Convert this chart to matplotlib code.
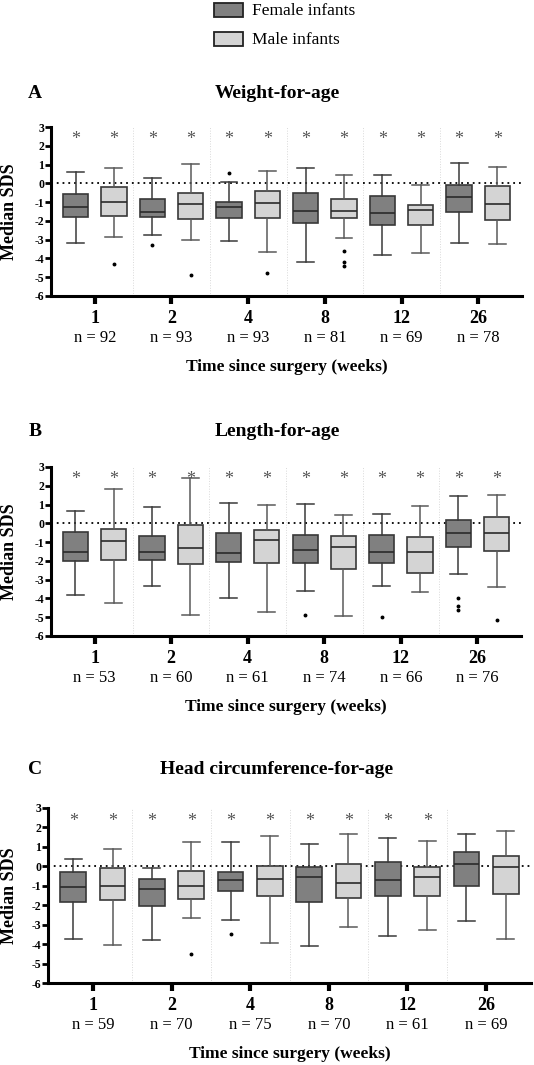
"""
Box plots of median SDS by time since surgery, female vs male infants.
Three panels: weight-for-age, length-for-age, head circumference-for-age.
"""

import matplotlib
matplotlib.use("Agg")
import matplotlib.pyplot as plt
from matplotlib.patches import Rectangle
from matplotlib.transforms import blended_transform_factory

plt.rcParams["font.family"] = ["Liberation Serif", "DejaVu Serif"]
plt.rcParams["axes.unicode_minus"] = False

# ---------------------------------------------------------------------------
# Data: (whisker low, q1, median, q3, whisker high)
# ---------------------------------------------------------------------------
weeks = ["1", "2", "4", "8", "12", "26"]

wfa_female = [(-3.2, -1.78, -1.26, -0.59, 0.62), (-2.73, -1.78, -1.55, -0.82, 0.28),
              (-3.06, -1.86, -1.27, -0.97, 0.09), (-4.2, -2.13, -1.47, -0.53, 0.83),
              (-3.82, -2.2, -1.6, -0.67, 0.44), (-3.2, -1.51, -0.75, -0.07, 1.07)]
wfa_male = [(-2.88, -1.72, -1.01, -0.21, 0.83), (-3.03, -1.92, -1.1, -0.52, 1.01),
            (-3.64, -1.83, -1.06, -0.42, 0.66), (-2.93, -1.86, -1.47, -0.85, 0.43),
            (-3.69, -2.2, -1.44, -1.14, -0.1), (-3.21, -1.97, -1.1, -0.12, 0.87)]
wfa_female_out = [[], [-3.3], [0.55], [], [], []]
wfa_male_out = [[-4.3], [-4.9], [-4.75], [-3.6, -4.17, -4.42], [], []]
n_wfa = [92, 93, 93, 81, 69, 78]
sig_wfa_female = [1, 1, 1, 1, 1, 1]
sig_wfa_male = [1, 1, 1, 1, 1, 1]

lfa_female = [(-3.81, -2.02, -1.52, -0.44, 0.68), (-3.34, -1.97, -1.53, -0.66, 0.88),
              (-4.0, -2.06, -1.6, -0.52, 1.1), (-3.6, -2.13, -1.4, -0.61, 1.05),
              (-3.32, -2.1, -1.53, -0.63, 0.52), (-2.71, -1.24, -0.5, 0.16, 1.44)]
lfa_male = [(-4.22, -1.95, -0.95, -0.32, 1.83), (-4.9, -2.17, -1.31, -0.11, 2.4),
            (-4.74, -2.12, -0.9, -0.36, 0.99), (-4.94, -2.42, -1.24, -0.65, 0.47),
            (-3.68, -2.66, -1.53, -0.74, 0.92), (-3.39, -1.45, -0.52, 0.34, 1.49)]
lfa_female_out = [[], [], [], [-4.9], [-4.97], [-3.97, -4.4, -4.63]]
lfa_male_out = [[], [], [], [], [], [-5.15]]
n_lfa = [53, 60, 61, 74, 66, 76]
sig_lfa_female = [1, 1, 1, 1, 1, 1]
sig_lfa_male = [1, 1, 1, 1, 1, 1]

hc_female = [(-3.72, -1.86, -1.04, -0.31, 0.38), (-3.77, -2.02, -1.18, -0.64, -0.07),
             (-2.76, -1.27, -0.71, -0.3, 1.23), (-4.12, -1.84, -0.57, -0.03, 1.15),
             (-3.58, -1.55, -0.69, 0.21, 1.44), (-2.83, -1.03, 0.12, 0.73, 1.67)]
hc_male = [(-4.07, -1.73, -1.01, -0.09, 0.9), (-2.68, -1.7, -0.99, -0.23, 1.25),
           (-3.94, -1.55, -0.63, 0.03, 1.55), (-3.11, -1.63, -0.85, 0.1, 1.65),
           (-3.28, -1.55, -0.57, -0.03, 1.29), (-3.75, -1.41, -0.03, 0.54, 1.81)]
hc_female_out = [[], [], [-3.46], [], [], []]
hc_male_out = [[], [-4.5], [], [], [], []]
n_hc = [59, 70, 75, 70, 61, 69]
sig_hc_female = [1, 1, 1, 1, 1, 0]
sig_hc_male = [1, 1, 1, 1, 1, 0]

FEMALE_COLOR = "#808080"
MALE_COLOR = "#d4d4d4"
EDGE = "#383838"
STAR = "#555555"

W, H, DPI = 534, 1065, 100
PX = 72 / DPI  # points per pixel


def _stats(boxes, outliers):
    return [dict(whislo=b[0], q1=b[1], med=b[2], q3=b[3], whishi=b[4], fliers=o)
            for b, o in zip(boxes, outliers)]


def draw_panel(fig, rect, letter, title_y, title, female, male, f_out, m_out,
               n, sig_f, sig_m):
    ax = fig.add_axes(rect)
    pos = list(range(len(weeks)))
    offset, width = 0.25, 0.33

    for boxes, outs, color, shift, wcol in [
        (female, f_out, FEMALE_COLOR, -offset, "#3a3a3a"),
        (male, m_out, MALE_COLOR, offset, "#5a5a5a"),
    ]:
        ax.bxp(_stats(boxes, outs), positions=[p + shift for p in pos],
               widths=width, capwidths=0.22, patch_artist=True,
               boxprops=dict(facecolor=color, edgecolor=EDGE, linewidth=1.2),
               medianprops=dict(color="#2a2a2a", linewidth=1.2),
               whiskerprops=dict(color=wcol, linewidth=1.1),
               capprops=dict(color=wcol, linewidth=1.1),
               flierprops=dict(marker="o", markersize=1.8, markerfacecolor="black",
                               markeredgecolor="black"),
               zorder=3)

    # group separators and zero reference line
    for p in pos[:-1]:
        ax.axvline(p + 0.5, color="#d9d9d9", linestyle=":", linewidth=0.7, zorder=1)
    ax.axhline(0, color="black", linestyle=(0, (1, 2.2)), linewidth=1.3, zorder=2)

    # significance stars
    for p, sf, sm in zip(pos, sig_f, sig_m):
        if sf:
            ax.text(p - offset, 2.1, "*", ha="center", va="baseline",
                    fontsize=13, color=STAR)
        if sm:
            ax.text(p + offset, 2.1, "*", ha="center", va="baseline",
                    fontsize=13, color=STAR)

    ax.set_xlim(-0.57, 5.57)
    ax.set_ylim(-6, 3)
    ax.set_yticks(range(-6, 4))
    ax.set_yticklabels([str(v) for v in range(-6, 4)], fontsize=8.5,
                       fontweight="bold")
    ax.set_xticks(pos)
    ax.set_xticklabels(weeks, fontsize=13, fontweight="bold")
    ax.tick_params(axis="y", direction="out", length=4, width=2, pad=1)
    ax.tick_params(axis="x", direction="out", length=6, width=3, pad=4)

    for side in ("top", "right"):
        ax.spines[side].set_visible(False)
    for side in ("left", "bottom"):
        ax.spines[side].set_linewidth(2.2)

    trans = blended_transform_factory(ax.transData, ax.transAxes)
    for p, count in zip(pos, n):
        ax.annotate(f"n = {count}", xy=(p, 0), xycoords=trans,
                    xytext=(0, -42 * PX), textcoords="offset points",
                    ha="center", va="center", fontsize=12)
    ax.annotate("Time since surgery (weeks)", xy=(0.5, 0), xycoords="axes fraction",
                xytext=(0, -71 * PX), textcoords="offset points",
                ha="center", va="center", fontsize=12.5, fontweight="bold")

    cy = rect[1] + rect[3] / 2
    fig.text(10 / W, cy, "Median SDS", rotation=90, ha="center", va="center",
             fontsize=13, fontweight="bold")
    fig.text(35 / W, 1 - title_y / H, letter, ha="center", va="center",
             fontsize=14, fontweight="bold")
    fig.text(277 / W, 1 - title_y / H, title, ha="center", va="center",
             fontsize=14, fontweight="bold")
    return ax


fig = plt.figure(figsize=(W / DPI, H / DPI), dpi=DPI)

draw_panel(fig, [51 / W, 1 - 296 / H, 471 / W, 169 / H], "A", 94, "Weight-for-age",
           wfa_female, wfa_male, wfa_female_out, wfa_male_out, n_wfa,
           sig_wfa_female, sig_wfa_male)
draw_panel(fig, [51 / W, 1 - 636 / H, 470 / W, 169 / H], "B", 431, "Length-for-age",
           lfa_female, lfa_male, lfa_female_out, lfa_male_out, n_lfa,
           sig_lfa_female, sig_lfa_male)
draw_panel(fig, [48 / W, 1 - 983 / H, 483 / W, 175 / H], "C", 770,
           "Head circumference-for-age",
           hc_female, hc_male, hc_female_out, hc_male_out, n_hc,
           sig_hc_female, sig_hc_male)

# legend
for label, color, y in [("Female infants", FEMALE_COLOR, 10), ("Male infants", MALE_COLOR, 39)]:
    fig.patches.append(Rectangle((214 / W, 1 - (y + 6.5) / H), 29 / W, 13 / H,
                                 transform=fig.transFigure, facecolor=color,
                                 edgecolor="#222222", linewidth=1.3))
    fig.text(252 / W, 1 - (y + 1) / H, label, ha="left", va="center", fontsize=12.5)

fig.savefig("out.png", dpi=DPI)
